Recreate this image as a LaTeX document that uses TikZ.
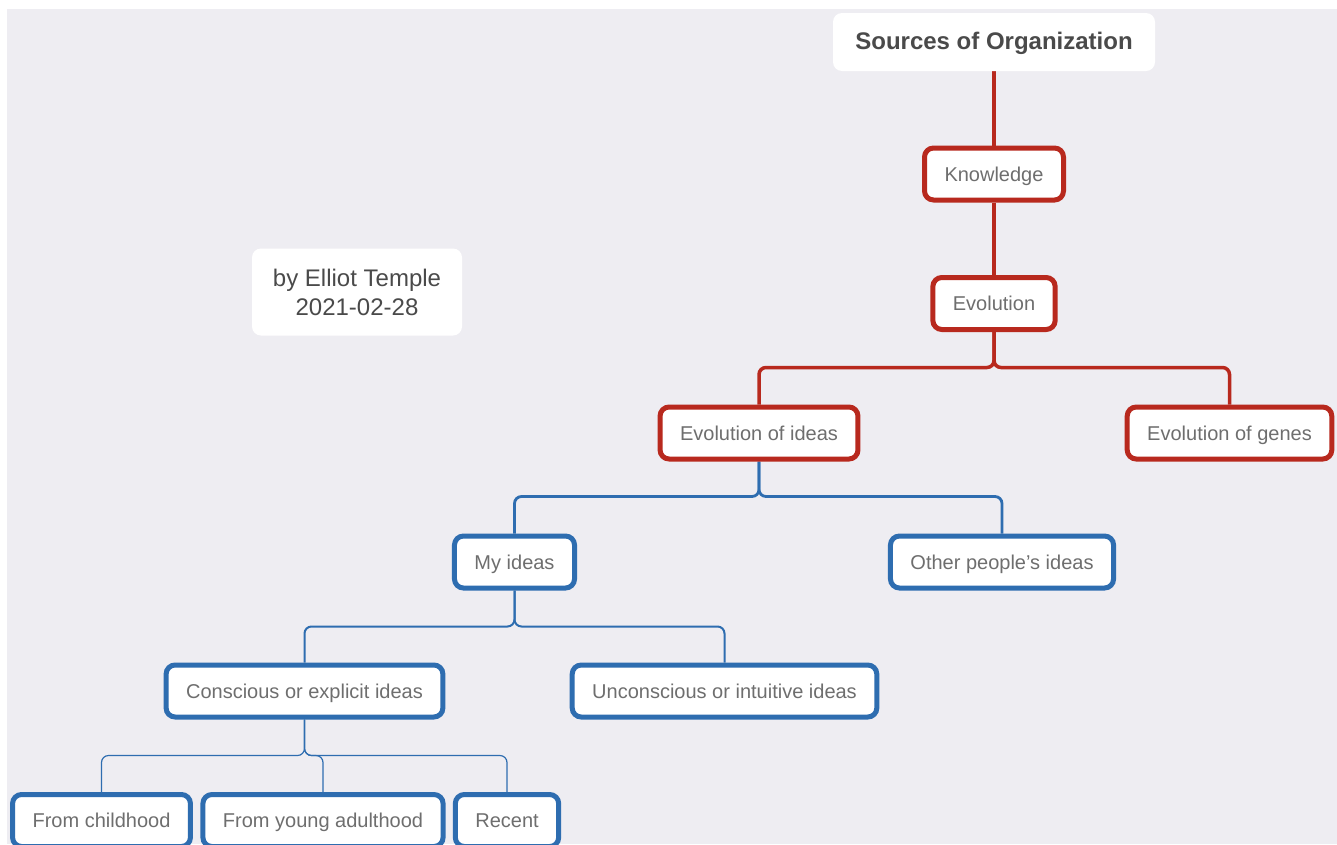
\documentclass[tikz,border=0pt]{standalone}
\usepackage{fontspec}
\setmainfont{Liberation Sans}
\usetikzlibrary{backgrounds}
\definecolor{bgc}{HTML}{EEEDF2}
\definecolor{redc}{HTML}{B8291E}
\definecolor{bluec}{HTML}{2E6DB0}
\definecolor{txtc}{HTML}{6E6E6E}
\definecolor{darktxt}{HTML}{4A4A4A}
\tikzset{
  x=1pt, y=-1pt,
  box/.style={draw, line width=5pt, fill=white, rounded corners=9pt,
    inner xsep=20pt, inner ysep=0pt, minimum height=52pt,
    text height=16.5pt, text depth=2.5pt,
    text=txtc, font=\fontsize{20}{24}\selectfont},
  redbox/.style={box, draw=redc},
  bluebox/.style={box, draw=bluec},
  plainbox/.style={fill=white, rounded corners=9pt, text=darktxt},
  link/.style={rounded corners=7pt},
}
\begin{document}
\begin{tikzpicture}
\useasboundingbox (0,0) rectangle (1337,844);

\node[plainbox, minimum width=322pt, minimum height=58pt, text height=18.6pt, text depth=3.4pt, font=\fontsize{24}{28}\selectfont\bfseries] (title) at (994,42) {Sources of Organization};
\node[plainbox, minimum width=210pt, minimum height=87pt, align=center, font=\fontsize{24}{29}\selectfont] (author) at (357,292) {by Elliot Temple\\2021-02-28};

\node[redbox] (know) at (994,174) {Knowledge};
\node[redbox] (evo) at (994,303.5) {Evolution};
\node[redbox] (ideas) at (759,433) {Evolution of ideas};
\node[redbox] (genes) at (1229.5,433) {Evolution of genes};
\node[bluebox] (my) at (514.5,562) {My ideas};
\node[bluebox] (other) at (1002,562) {Other people’s ideas};
\node[bluebox] (cons) at (304.5,691) {Conscious or explicit ideas};
\node[bluebox] (uncons) at (724.5,691) {Unconscious or intuitive ideas};
\node[bluebox] (child) at (101.5,820.5) {From childhood};
\node[bluebox] (young) at (323,820.5) {From young adulthood};
\node[bluebox] (recent) at (507,820.5) {Recent};

\begin{scope}[on background layer]
\fill[white] (0,0) rectangle (1337,844);
\fill[bgc] (7,9) rectangle (1337,844);
\draw[redc, line width=4.5pt] (title.south) -- (know.north);
\draw[redc, line width=4.5pt] (know.south) -- (evo.north);
\draw[redc, line width=3.5pt, link] (evo.south) -- (evo.south |- 0,367.5) -| (ideas.north);
\draw[redc, line width=3.5pt, link] (evo.south) -- (evo.south |- 0,367.5) -| (genes.north);
\draw[bluec, line width=2.8pt, link] (ideas.south) -- (ideas.south |- 0,496.5) -| (my.north);
\draw[bluec, line width=2.8pt, link] (ideas.south) -- (ideas.south |- 0,496.5) -| (other.north);
\draw[bluec, line width=2pt, link] (my.south) -- (my.south |- 0,626.5) -| (cons.north);
\draw[bluec, line width=2pt, link] (my.south) -- (my.south |- 0,626.5) -| (uncons.north);
\draw[bluec, line width=1.2pt, link] (cons.south) -- (cons.south |- 0,755.5) -| (child.north);
\draw[bluec, line width=1.2pt, link] (cons.south) -- (cons.south |- 0,755.5) -| (young.north);
\draw[bluec, line width=1.2pt, link] (cons.south) -- (cons.south |- 0,755.5) -| (recent.north);
\end{scope}
\end{tikzpicture}
\end{document}
